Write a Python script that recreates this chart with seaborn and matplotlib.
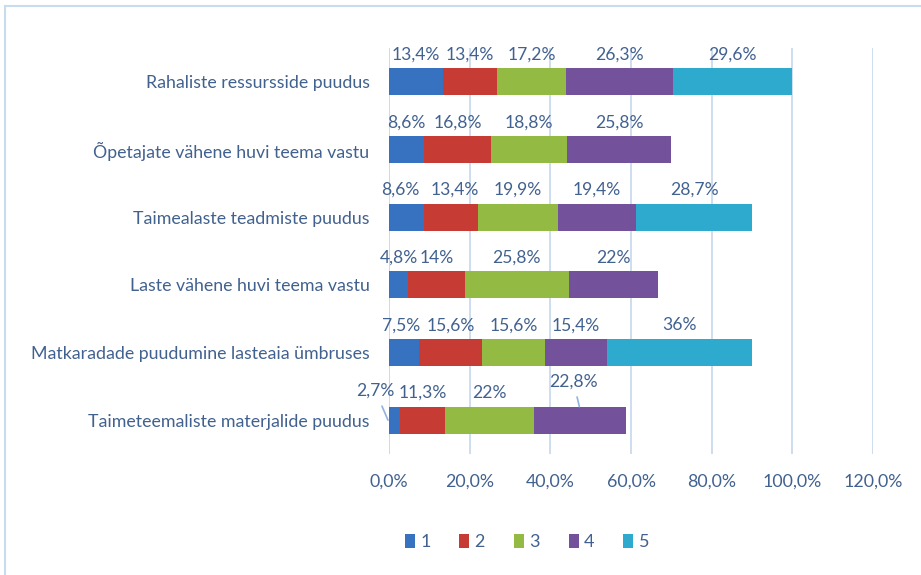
import numpy as np
import pandas as pd
import matplotlib
matplotlib.use('Agg')
import matplotlib.pyplot as plt
from matplotlib.patches import Rectangle
import seaborn as sns

categories = ['Rahaliste ressursside puudus',
              'Õpetajate vähene huvi teema vastu',
              'Taimealaste teadmiste puudus',
              'Laste vähene huvi teema vastu',
              'Matkaradade puudumine lasteaia ümbruses',
              'Taimeteemaliste materjalide puudus']
series = ['1', '2', '3', '4', '5']
s1 = [13.4, 8.6, 8.6, 4.8, 7.5, 2.7]
s2 = [13.4, 16.8, 13.4, 14, 15.6, 11.3]
s3 = [17.2, 18.8, 19.9, 25.8, 15.6, 22]
s4 = [26.3, 25.8, 19.4, 22, 15.4, 22.8]
s5 = [29.6, np.nan, 28.7, np.nan, 36, np.nan]
xticks = [0, 20, 40, 60, 80, 100, 120]

colors = ['#3672c0', '#c73b35', '#93bb44', '#74519b', '#2eaacf']
txt = '#41618f'
grid = '#c9dbef'

sns.set_style('white')
plt.rcParams['font.family'] = ['Lato', 'DejaVu Sans']

df = pd.DataFrame({'kat': categories, '1': s1, '2': s2, '3': s3, '4': s4, '5': s5})
vals = df[series].to_numpy()
cum = np.nancumsum(vals, axis=1)
cum[np.isnan(vals)] = np.nan
for i, s in enumerate(series):
    df['cum' + s] = cum[:, i]

fig = plt.figure(figsize=(9.21, 5.75), dpi=100)
ax = fig.add_axes([389 / 921, 1 - 454 / 575, (873 - 389) / 921, (454 - 48) / 575])

# stacked bars: draw cumulative totals from the longest down
for i in range(len(series) - 1, -1, -1):
    sns.barplot(data=df, y='kat', x='cum' + series[i], order=categories,
                color=colors[i], width=0.4, orient='h', ax=ax,
                saturation=1, label=series[i], linewidth=0, zorder=3)

h, l = ax.get_legend_handles_labels()
if ax.get_legend() is not None:
    ax.get_legend().remove()

ax.set_xlim(0, 120)
ax.set_ylim(5.5, -0.5)
ax.set_xticks(xticks)
ax.set_xticklabels([f'{v:.1f}'.replace('.', ',') + '%' for v in xticks])
ax.set_xlabel('')
ax.set_ylabel('')
ax.tick_params(axis='both', length=0, colors=txt, labelsize=12.8)
ax.tick_params(axis='y', pad=14)
ax.tick_params(axis='x', pad=14)
ax.xaxis.grid(True, color=grid, lw=1.3, zorder=0)
ax.set_axisbelow(True)
for sp in ax.spines.values():
    sp.set_visible(False)
ax.axvline(0, color=grid, lw=1.3, zorder=1)

# data labels above each segment; a few were nudged by hand in the original
nudge = {(2, 0): -4, (2, 1): 3, (4, 0): -2}
# leader lines: (point on bar as x offset from segment middle, y offset), text offset in pt
leader = {(5, 0): (-1.6, 0.0, -9, 21), (5, 3): (-0.2, -0.2, -4.3, 18)}
for r in range(len(categories)):
    for c in range(len(series)):
        v = vals[r, c]
        if np.isnan(v):
            continue
        mid = cum[r, c] - v / 2
        lab = f'{v:g}'.replace('.', ',') + '%'
        if (r, c) in leader:
            xo, yo, dx, dy = leader[(r, c)]
            ax.annotate(lab, xy=(mid + xo, r + yo), xytext=(dx, dy),
                        textcoords='offset points', ha='center', va='center',
                        color=txt, fontsize=12.6, annotation_clip=False,
                        arrowprops=dict(arrowstyle='-', color='#8fb3de', lw=1.2,
                                        shrinkA=3, shrinkB=0))
        else:
            ax.annotate(lab, xy=(mid, r - 0.4), xytext=(nudge.get((r, c), 0), 0),
                        textcoords='offset points', ha='center', va='center',
                        color=txt, fontsize=12.6)

order = [l.index(s) for s in series]
fig.legend([h[i] for i in order], [l[i] for i in order],
           loc='center', bbox_to_anchor=(527 / 921, 1 - 542 / 575), ncol=5,
           frameon=False, handlelength=0.55, handleheight=0.8, handletextpad=0.3,
           columnspacing=1.6, labelcolor=txt, fontsize=13)

fig.patches.append(Rectangle((5 / 921, -0.1), 1.2, 1.1 - 6 / 575,
                             transform=fig.transFigure, fill=False,
                             edgecolor='#c9dbef', lw=1.5))

fig.savefig('out.png', dpi=100)
